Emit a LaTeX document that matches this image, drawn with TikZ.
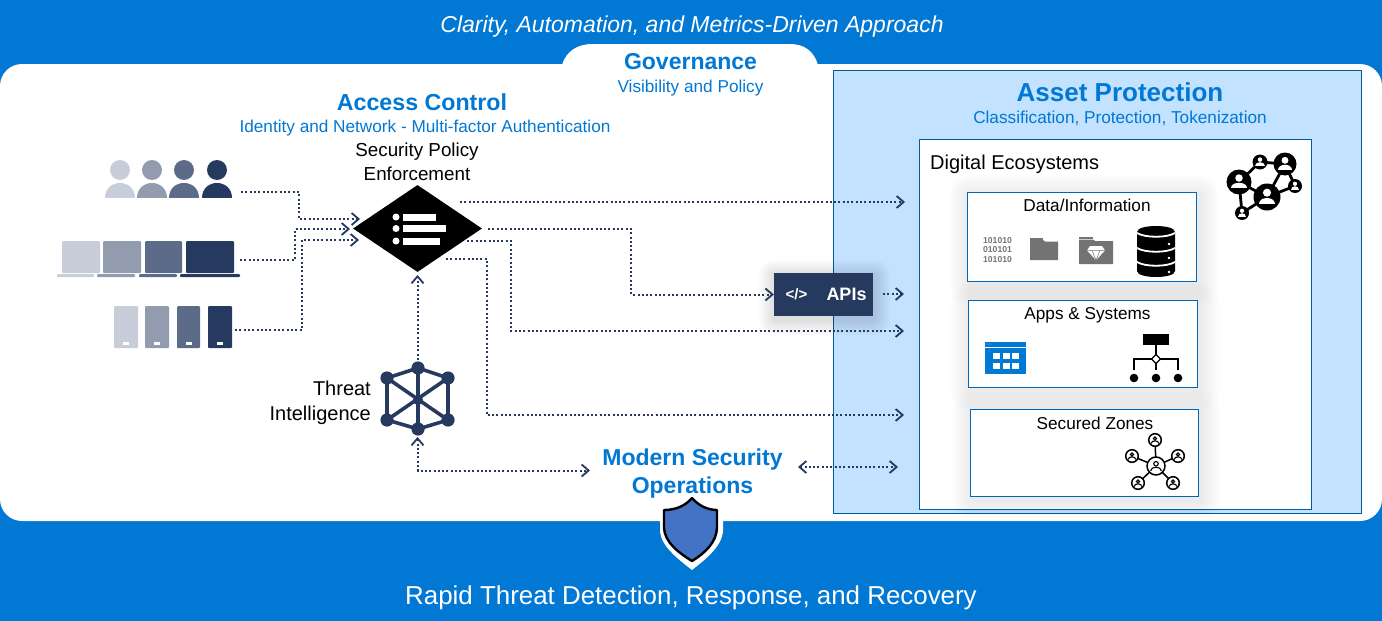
\documentclass[tikz,border=0pt]{standalone}
\usepackage{fontspec}
\setmainfont{Liberation Sans}
\usetikzlibrary{shapes.geometric,arrows.meta}
\definecolor{msblue}{HTML}{0078D4}
\definecolor{navy}{HTML}{263A60}
\definecolor{shadea}{HTML}{C8CED9}
\definecolor{shadeb}{HTML}{929CAE}
\definecolor{shadec}{HTML}{5C6B87}
\definecolor{paleblue}{HTML}{C2E2FF}
\definecolor{edgeblue}{HTML}{005BA1}
\definecolor{boxblue}{HTML}{0067B8}
\definecolor{iconGrey}{HTML}{737373}
\definecolor{shieldblue}{HTML}{4472C4}
\tikzset{
  txt/.style={inner sep=0pt,align=center},
  barb/.tip={Straight Barb[length=7pt,width=12pt,line width=1.8pt]},
  link/.style={navy,line width=2pt,dash pattern=on 2pt off 2.3pt,-barb},
  twolink/.style={link,barb-barb},
  secbox/.style={draw=boxblue,fill=white,line width=1.2pt,inner sep=0pt},
  headfont/.style={txt,text=msblue,font=\bfseries\fontsize{#1}{28}\selectfont},
  subfont/.style={txt,text=msblue,font=\fontsize{17.2}{20}\selectfont},
  blacktxt/.style={txt,font=\fontsize{#1}{23.5}\selectfont},
  boxtxt/.style={txt,font=\fontsize{17.2}{20}\selectfont}
}
\begin{document}
\begin{tikzpicture}[x=1pt,y=-1pt]
    \useasboundingbox (0,0) rectangle (1382,621);
    % Background
    \fill[msblue] (0,0) rectangle (1382,621);
    \fill[white,rounded corners=22pt] (0,64) rectangle (1382,521);
    \fill[white] (562,65) .. controls (566,51) and (578,44) .. (592,44) -- (790,44) .. controls (804,44) and (814,51) .. (818,65) -- cycle;
    % Asset area
    \node[draw=edgeblue,fill=paleblue,line width=1pt,inner sep=0pt,minimum width=528pt,minimum height=443pt] (asset) at (1097.5,292) {};
    \node[draw=edgeblue,fill=white,line width=1pt,inner sep=0pt,minimum width=392pt,minimum height=370pt] (digital) at (1115.5,324.5) {};
    % Shadows
    \foreach \xa/\ya/\xb/\yb in {967/192/1197/282,968/300/1198/388,970/409/1199/497}{
      \foreach \d in {2,4,...,20}{
        \fill[black,opacity=0.008,rounded corners=\d pt] (\xa-\d+2,\ya-\d+3) rectangle (\xb+\d+2,\yb+\d+3);
      }
    }
    \foreach \d in {2,4,...,16}{
      \fill[black,opacity=0.014,rounded corners=\d pt] (774-\d+1,273-\d+3) rectangle (873+\d+1,316+\d+3);
    }
    % Boxes
    \node[secbox,minimum width=229pt,minimum height=89pt] (data) at (1082,237) {};
    \node[secbox,minimum width=229pt,minimum height=87pt] (apps) at (1083,344) {};
    \node[secbox,minimum width=228pt,minimum height=87pt] (zones) at (1084.5,453) {};
    % Texts
    \node[txt,text=white,font=\itshape\fontsize{23}{26}\selectfont] (topline) at (692,26.5) {Clarity, Automation, and Metrics-Driven Approach};
    \node[txt,text=white,font=\fontsize{25.9}{30}\selectfont] (bottomline) at (691,598) {Rapid Threat Detection, Response, and Recovery};
    \node[headfont=23] (governance) at (690.5,62) {Governance};
    \node[subfont] (visibility) at (690.5,88.5) {Visibility and Policy};
    \node[headfont=23.2] (access) at (422,102) {Access Control};
    \node[subfont] (identity) at (425,128.5) {Identity and Network - Multi-factor Authentication};
    \node[headfont=26] (assettitle) at (1120,92) {Asset Protection};
    \node[subfont] (classif) at (1120,118.5) {Classification, Protection, Tokenization};
    \node[blacktxt=18.8] (policytxt) at (417,162) {Security Policy\\Enforcement};
    \node[txt,align=right,anchor=east,font=\fontsize{20}{24.5}\selectfont] (threattxt) at (371,403) {Threat\\Intelligence};
    \node[headfont=23] (modern) at (692.5,474) {Modern Security\\Operations};
    \node[txt,anchor=west,font=\fontsize{20}{23}\selectfont] (digitaltxt) at (930,164) {Digital Ecosystems};
    \node[boxtxt] (datatxt) at (1087,205) {Data/Information};
    \node[boxtxt] (appstxt) at (1087.5,315) {Apps \& Systems};
    \node[boxtxt] (zonestxt) at (1095,423) {Secured Zones};
    % Users
    \foreach \cx/\c in {120/shadea,152/shadeb,184/shadec,217/navy}{
      \fill[\c] (\cx,170) circle (10);
      \fill[\c] (\cx-15,198) .. controls (\cx-15,178) and (\cx+15,178) .. (\cx+15,198) -- cycle;
    }
    % Laptops
    \foreach \xa/\xb/\xc/\xd/\c in {62/100/57/94/shadea,103/141/97/135/shadeb,145/182/139/177/shadec,186/234/180/240/navy}{
      \fill[\c,rounded corners=1pt] (\xa,241) rectangle (\xb,273);
      \fill[\c,rounded corners=1pt] (\xc,274) rectangle (\xd,277);
    }
    % Phones
    \foreach \xa/\xb/\c in {114/138/shadea,145/169/shadeb,177/200/shadec,208/232/navy}{
      \fill[\c,rounded corners=1pt] (\xa,306) rectangle (\xb,348);
      \fill[white] (\xa/2+\xb/2-3,342) rectangle (\xa/2+\xb/2+3,345);
    }
    % Policy
    \node[diamond,fill=black,inner sep=0pt,minimum width=129pt,minimum height=87pt] (policy) at (417.5,228.5) {};
    \foreach \y/\xe in {217/436,228.5/446,241/440}{
      \fill[white] (396,\y) circle (3.5);
      \fill[white] (403,\y-3.5) rectangle (\xe,\y+3.5);
    }
    % Threat icon
    \foreach \n/\x/\y in {t/418/368,tl/387/378,tr/448/378,c/418/400,bl/387/420,br/448/420,b/418/429}{
      \coordinate (\n) at (\x,\y);
    }
    \draw[navy,line width=3.6pt] (t) -- (tr) -- (br) -- (b) -- (bl) -- (tl) -- cycle (tl) -- (br) (tr) -- (bl) (t) -- (b);
    \foreach \n in {t,tl,tr,bl,br,b}{
      \fill[navy] (\n) circle (6.6);
    }
    \fill[navy] (c) circle (5);
    % Links
    \coordinate (usersout) at (241,192);
    \coordinate (usersin) at (360,219);
    \coordinate (lapout) at (240,259.5);
    \coordinate (lapin) at (350,229);
    \coordinate (phoneout) at (235,330);
    \coordinate (phonein) at (359,240);
    \coordinate (outa) at (460,202);
    \coordinate (enda) at (905,202);
    \coordinate (outb) at (488,229);
    \coordinate (outc) at (467,241);
    \coordinate (endc) at (904,331);
    \coordinate (outd) at (446,259);
    \coordinate (endd) at (904,415);
    \coordinate (threattop) at (417.5,360);
    \coordinate (threatbot) at (417.5,437);
    \coordinate (socin) at (590,470.5);
    \coordinate (socout) at (798,467);
    \coordinate (zonein) at (898,467);
    \coordinate (apiout) at (883,294);
    \coordinate (apiend) at (904,294);
    \coordinate (policybot) at (417.5,275);
    \node[fill=navy,inner sep=0pt,minimum width=99pt,minimum height=43pt] (apis) at (823.5,294.5) {};
    \draw[link] (usersout) -- ++(58,0) |- (usersin);
    \draw[link] (lapout) -- ++(55,0) |- (lapin);
    \draw[link] (phoneout) -- ++(67,0) |- (phonein);
    \draw[link] (outa) -- (enda);
    \draw[link] (outb) -- ++(143,0) |- (apis.west);
    \draw[link] (outc) -- ++(44,0) |- (endc);
    \draw[link] (outd) -- ++(41,0) |- (endd);
    \draw[link] (threattop) -- (policybot);
    \draw[twolink] (threatbot) |- (socin);
    \draw[twolink] (socout) -- (zonein);
    \draw[link] (apiout) -- (apiend);
    % APIs
    \node[fill=navy,inner sep=0pt,minimum width=99pt,minimum height=43pt] (apisbox) at (823.5,294.5) {};
    \node[txt,text=white,font=\bfseries\fontsize{15}{16}\selectfont] (codetxt) at (796.5,294) {</>};
    \node[txt,text=white,font=\bfseries\fontsize{18}{20}\selectfont] (apitxt) at (846.5,294.5) {APIs};
    % Shield
    \def\shieldpath{(692,498) .. controls (698,505) and (707,510) .. (717,510) -- (717,527) .. controls (717,542) and (705,553) .. (692,561) .. controls (679,553) and (664,542) .. (664,527) -- (664,510) .. controls (677,510) and (686,505) .. (692,498) -- cycle}
    \fill[white] (660,521) -- (660,532) .. controls (662,547) and (678,559) .. (692,570) .. controls (706,559) and (721,547) .. (723,532) -- (723,521) -- cycle;
    \draw[black,fill=shieldblue,line width=2.4pt,line join=round] \shieldpath;
    % Binary
    \node[txt,text=iconGrey,font=\bfseries\fontsize{8.6}{9.4}\selectfont] (binary) at (997.5,250) {101010\\010101\\101010};
    % Folders
    \fill[iconGrey] (1030,237.5) rectangle (1043,239.5);
    \fill[iconGrey] (1030,240) -- (1043,240) -- (1045,241.5) -- (1058,241.5) -- (1058,260) -- (1030,260) -- cycle;
    \fill[iconGrey] (1079,237) rectangle (1093,239);
    \fill[iconGrey] (1079,239.5) -- (1093,239.5) -- (1095,241) -- (1113,241) -- (1113,264) -- (1079,264) -- cycle;
    \fill[white] (1090,246) -- (1102,246) -- (1105,250.5) -- (1096,260) -- (1087,250.5) -- cycle;
    \draw[iconGrey,line width=0.5pt] (1087,250.5) -- (1105,250.5) (1092,250.5) -- (1096,260) -- (1100,250.5);
    % Database
    \fill[black] (1137,232) .. controls (1137,224) and (1175,224) .. (1175,232) -- (1175,271) .. controls (1175,279) and (1137,279) .. (1137,271) -- cycle;
    \foreach \y in {233,248,262}{
      \draw[white,line width=1.8pt] (1137,\y) .. controls (1145,\y+5) and (1167,\y+5) .. (1175,\y);
    }
    \foreach \y in {244,258,272}{
      \fill[white] (1169,\y) circle (1.3);
    }
    % Window
    \fill[msblue] (985,342) rectangle (1026,346.5);
    \fill[msblue] (985,348) rectangle (1026,374);
    \foreach \x in {987,989,991}{
      \fill[white] (\x,344) circle (0.4);
    }
    \foreach \x in {993,1003,1012}{
      \foreach \y in {353,363}{
        \fill[white] (\x,\y) rectangle (\x+7,\y+6);
      }
    }
    % Org chart
    \fill[black] (1143,334) rectangle (1169,345);
    \draw[black,line width=2.2pt] (1156,345) -- (1156,370) (1134,370) -- (1134,359) -- (1178,359) -- (1178,370);
    \draw[black,fill=white,line width=1.2pt] (1156,354.5) -- (1160.5,359) -- (1156,363.5) -- (1151.5,359) -- cycle;
    \foreach \x in {1134,1156,1178}{
      \fill[black] (\x,378) circle (4.3);
    }
    % Network
    \draw[black,line width=2.8pt] (1239,182) -- (1260,162) -- (1285,164) -- (1267,197) -- (1239,182) -- (1242,213) -- (1267,197) -- (1295,186) -- (1285,164);
    \foreach \x/\y/\r in {1267/197/13.5,1285/164/11.5,1239/182/12.5,1260/162/7.5,1295/186/7,1242/213/7}{
      \fill[black] (\x,\y) circle (\r);
      \fill[white] (\x,\y-.32*\r) circle (.3*\r);
      \fill[white] (\x-.62*\r,\y+.5*\r) .. controls (\x-.62*\r,\y-.1*\r) and (\x+.62*\r,\y-.1*\r) .. (\x+.62*\r,\y+.5*\r) -- cycle;
    }
    % Zone network
    \draw[black,line width=1.5pt] (1155,440) -- (1156,466) (1132,456) -- (1156,466) (1178,456) -- (1156,466) (1138,483) -- (1156,466) (1173,483) -- (1156,466);
    \foreach \x/\y/\r in {1156/466/9,1155/440/6.3,1132/456/6.3,1178/456/6.3,1138/483/6.3,1173/483/6.3}{
      \draw[black,fill=white,line width=1.5pt] (\x,\y) circle (\r);
      \draw[black,line width=1.1pt] (\x,\y-.25*\r) circle (.25*\r);
      \draw[black,line width=1.1pt] (\x-.6*\r,\y+.55*\r) .. controls (\x-.6*\r,\y) and (\x+.6*\r,\y) .. (\x+.6*\r,\y+.55*\r);
    }
\end{tikzpicture}
\end{document}
